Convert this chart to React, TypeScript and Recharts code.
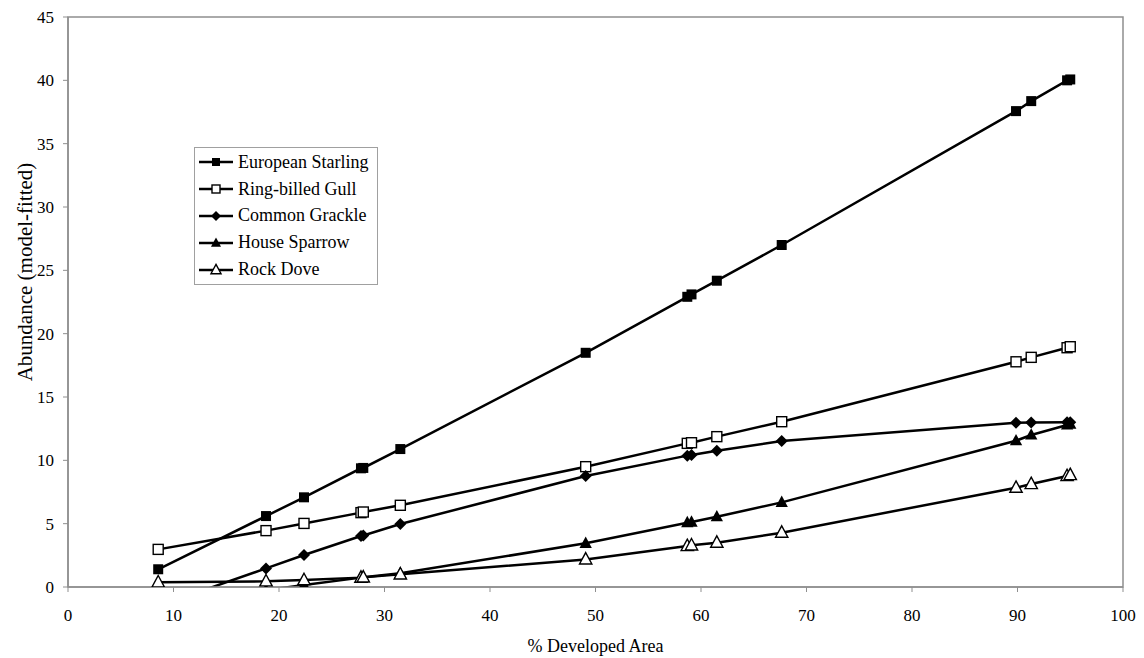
import React from 'react'
import { LineChart, Line, XAxis, YAxis, Legend, ReferenceArea, Label } from 'recharts'

// % developed area of each survey site (shared by every species)
const developedArea = [8.55, 18.77, 22.37, 27.77, 27.99, 31.5, 49.07, 58.7, 59.1, 61.5, 67.65, 89.86, 91.3, 94.7, 95.0]

// model-fitted abundance per species
const starling = [1.4, 5.6, 7.08, 9.37, 9.4, 10.89, 18.49, 22.91, 23.1, 24.18, 27.0, 37.57, 38.36, 40.0, 40.07]
const gull = [2.97, 4.45, 5.02, 5.87, 5.92, 6.45, 9.5, 11.34, 11.39, 11.87, 13.05, 17.78, 18.13, 18.89, 18.97]
const grackle = [-1.5, 1.47, 2.53, 4.03, 4.07, 4.97, 8.76, 10.37, 10.42, 10.76, 11.52, 12.97, 12.98, 13.0, 13.0]
const sparrow = [-1.4, -0.25, 0.15, 0.74, 0.77, 1.08, 3.45, 5.08, 5.13, 5.55, 6.68, 11.55, 12.0, 12.79, 12.85]
const dove = [0.37, 0.45, 0.55, 0.74, 0.76, 1.0, 2.18, 3.24, 3.29, 3.5, 4.29, 7.84, 8.13, 8.76, 8.84]

const xTicks = [0, 10, 20, 30, 40, 50, 60, 70, 80, 90, 100]
const yTicks = [0, 5, 10, 15, 20, 25, 30, 35, 40, 45]

type Shape = 'square' | 'openSquare' | 'diamond' | 'triangle' | 'openTriangle'

const series: { key: string; name: string; shape: Shape; values: number[] }[] = [
  { key: 'starling', name: 'European Starling', shape: 'square', values: starling },
  { key: 'gull', name: 'Ring-billed Gull', shape: 'openSquare', values: gull },
  { key: 'grackle', name: 'Common Grackle', shape: 'diamond', values: grackle },
  { key: 'sparrow', name: 'House Sparrow', shape: 'triangle', values: sparrow },
  { key: 'dove', name: 'Rock Dove', shape: 'openTriangle', values: dove },
]

const data = developedArea.map((x, i) => {
  const row: Record<string, number> = { x }
  series.forEach((s) => {
    row[s.key] = s.values[i]
  })
  return row
})

const FONT = 'Liberation Serif, Tinos, Times New Roman, serif'
const AXIS_GRAY = '#8f8f8f'

function Marker({ cx, cy, shape, size }: { cx: number; cy: number; shape: Shape; size: number }) {
  const h = size / 2
  switch (shape) {
    case 'square':
      return <rect x={cx - h} y={cy - h} width={size} height={size} fill="#000" />
    case 'openSquare':
      return <rect x={cx - h} y={cy - h} width={size} height={size} fill="#fff" stroke="#000" strokeWidth={1.4} />
    case 'diamond': {
      const d = h + 1
      return <polygon points={`${cx},${cy - d} ${cx + d},${cy} ${cx},${cy + d} ${cx - d},${cy}`} fill="#000" />
    }
    case 'triangle':
    case 'openTriangle': {
      const s = size + 1
      const pts = `${cx},${cy - 0.62 * s} ${cx + 0.56 * s},${cy + 0.42 * s} ${cx - 0.56 * s},${cy + 0.42 * s}`
      return shape === 'triangle' ? (
        <polygon points={pts} fill="#000" />
      ) : (
        <polygon points={pts} fill="#fff" stroke="#000" strokeWidth={1.4} strokeLinejoin="miter" />
      )
    }
  }
  return null
}

const renderLegend = () => (
  <div
    style={{
      border: '1px solid #a0a0a0',
      background: '#fff',
      padding: '1px 6px 1px 4px',
      fontFamily: FONT,
      fontSize: 18,
      color: '#000',
      width: 172,
    }}
  >
    {series.map((s) => (
      <div key={s.key} style={{ display: 'flex', alignItems: 'center', height: 26.8 }}>
        <svg width={34} height={14} style={{ flex: 'none' }}>
          <line x1={0} x2={34} y1={7} y2={7} stroke="#000" strokeWidth={2.5} />
          <Marker cx={17} cy={7} shape={s.shape} size={8} />
        </svg>
        <span style={{ marginLeft: 5, whiteSpace: 'nowrap' }}>{s.name}</span>
      </div>
    ))}
  </div>
)

export default function App() {
  const tickStyle = { fill: '#000', fontSize: 17, fontFamily: FONT }

  return (
    <div style={{ position: 'absolute', left: 0, top: 0, background: '#fff', fontFamily: FONT }}>
      <LineChart width={1144} height={658} data={data} margin={{ top: 17, right: 21, bottom: 0, left: 0 }}>
        <ReferenceArea x1={0} x2={100} y1={0} y2={45} fill="none" stroke={AXIS_GRAY} strokeWidth={1.5} />
        <XAxis
          type="number"
          dataKey="x"
          domain={[0, 100]}
          ticks={xTicks}
          height={71}
          tickSize={5}
          tickMargin={17}
          axisLine={{ stroke: AXIS_GRAY, strokeWidth: 1.5 }}
          tickLine={{ stroke: AXIS_GRAY }}
          tick={tickStyle}
        >
          <Label value="% Developed Area" position="insideBottom" offset={6} fill="#000" fontSize={18} fontFamily={FONT} />
        </XAxis>
        <YAxis
          type="number"
          domain={[0, 45]}
          ticks={yTicks}
          allowDataOverflow
          width={68}
          tickSize={5}
          tickMargin={9}
          axisLine={{ stroke: AXIS_GRAY, strokeWidth: 1.5 }}
          tickLine={{ stroke: AXIS_GRAY }}
          tick={tickStyle}
        >
          <Label
            content={() => (
              <text
                x={25}
                y={272}
                transform="rotate(-90 25 272)"
                textAnchor="middle"
                dominantBaseline="central"
                fill="#000"
                fontSize={21}
                fontFamily={FONT}
              >
                Abundance (model-fitted)
              </text>
            )}
          />
        </YAxis>
        <Legend
          layout="vertical"
          align="center"
          verticalAlign="middle"
          content={renderLegend}
          wrapperStyle={{ left: 194, top: 147, width: 'auto', height: 'auto' }}
        />
        {series.map((s) => (
          <Line
            key={s.key}
            type="linear"
            dataKey={s.key}
            name={s.name}
            stroke="#000"
            strokeWidth={2.5}
            isAnimationActive={false}
            dot={(p: any) => <Marker key={`${s.key}-${p.index}`} cx={p.cx} cy={p.cy} shape={s.shape} size={10} />}
            activeDot={false}
          />
        ))}
      </LineChart>
    </div>
  )
}
